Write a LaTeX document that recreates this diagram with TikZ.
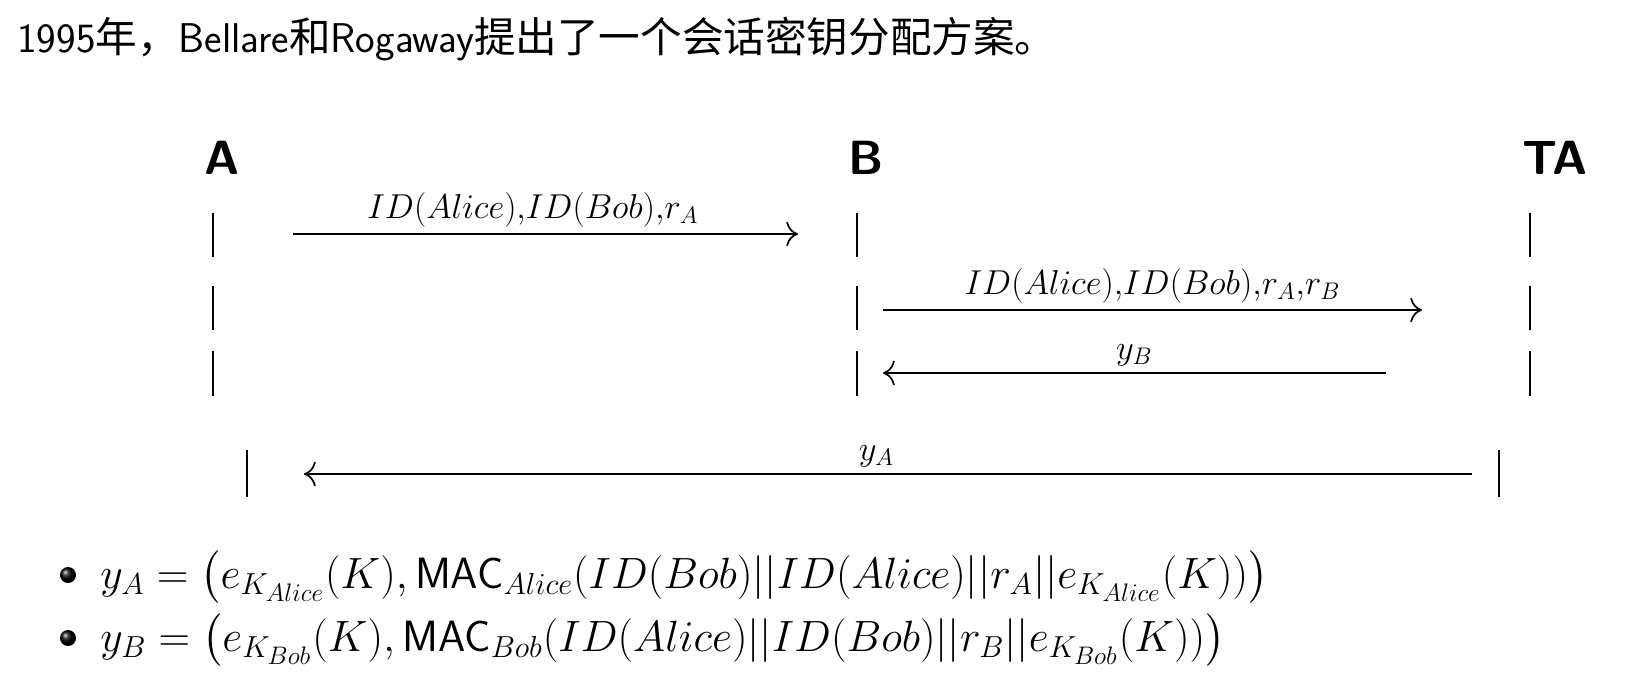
\documentclass[tikz,border=0pt]{standalone}
\usepackage{amsmath}
\usepackage{fontspec}
\newfontfamily\cjk{Noto Sans CJK SC}
\usetikzlibrary{arrows, arrows.meta, shapes, positioning}

\begin{document}
\begin{tikzpicture}[x=0.5pt, y=-0.5pt,
		party/.style={font=\fontsize{24}{28}\selectfont\sffamily\bfseries, inner sep=0pt, anchor=base},
		msg/.style={-{To[scale=1.7]}, line width=0.85pt},
		bar/.style={line width=0.7pt},
		lbl/.style={above, inner sep=3pt, font=\fontsize{17.28}{20}\selectfont},
		formula/.style={anchor=base west, inner sep=0pt, scale=1.056, font=\fontsize{20.74}{24}\selectfont},
		ball/.style={circle, ball color=black, minimum size=8pt, inner sep=0pt}]
			\useasboundingbox (0,0) rectangle (1643,693);
			\node[anchor=base west, inner sep=0pt, font=\fontsize{20.8}{24}\selectfont\sffamily] (title) at (17,52)
				{1995{\cjk 年，}Bellare{\cjk 和}Rogaway{\cjk 提出了一个会话密钥分配方案。}};
			\node[party] (A) at (222,174) {A};
			\node[party] (B) at (866,174) {B};
			\node[party] (TA) at (1555,174) {TA};
			\draw[bar] (213,213) -- (213,257) (213,286) -- (213,330) (213,351) -- (213,396);
			\draw[bar] (857,213) -- (857,257) (857,286) -- (857,330) (857,351) -- (857,396);
			\draw[bar] (1530,213) -- (1530,257) (1530,286) -- (1530,330) (1530,351) -- (1530,396);
			\draw[bar] (247,450) -- (247,497) (1499,450) -- (1499,497);
			\coordinate (reqA) at (293,234);
			\coordinate (reqB) at (798,234);
			\coordinate (fwdB) at (883,310);
			\coordinate (fwdTA) at (1422,310);
			\coordinate (yBfrom) at (1386,373);
			\coordinate (yBto) at (883,373);
			\coordinate (yAfrom) at (1472,474);
			\coordinate (yAto) at (304,474);
			\draw[msg] (reqA) -- node[lbl, pos=0.475] {$ID(Alice){,}ID(Bob){,}r_A$} (reqB);
			\draw[msg] (fwdB) -- node[lbl] {$ID(Alice){,}ID(Bob){,}r_A{,}r_B$} (fwdTA);
			\draw[msg] (yBfrom) -- node[lbl] {$y_B$} (yBto);
			\draw[msg] (yAfrom) -- node[lbl, pos=0.51] {$y_A$} (yAto);
			\node[ball] (dotA) at (68,575) {};
			\node[ball] (dotB) at (68,638) {};
			\node[formula] (yA) at (100,588)
				{$y_A = \bigl(e_{K_{Alice}}(K), \textsf{MAC}_{Alice}(ID(Bob)||ID(Alice)||r_A||e_{K_{Alice}}(K))\bigr)$};
			\node[formula] (yB) at (100,651)
				{$y_B = \bigl(e_{K_{Bob}}(K), \textsf{MAC}_{Bob}(ID(Alice)||ID(Bob)||r_B||e_{K_{Bob}}(K))\bigr)$};
		\end{tikzpicture}
\end{document}
